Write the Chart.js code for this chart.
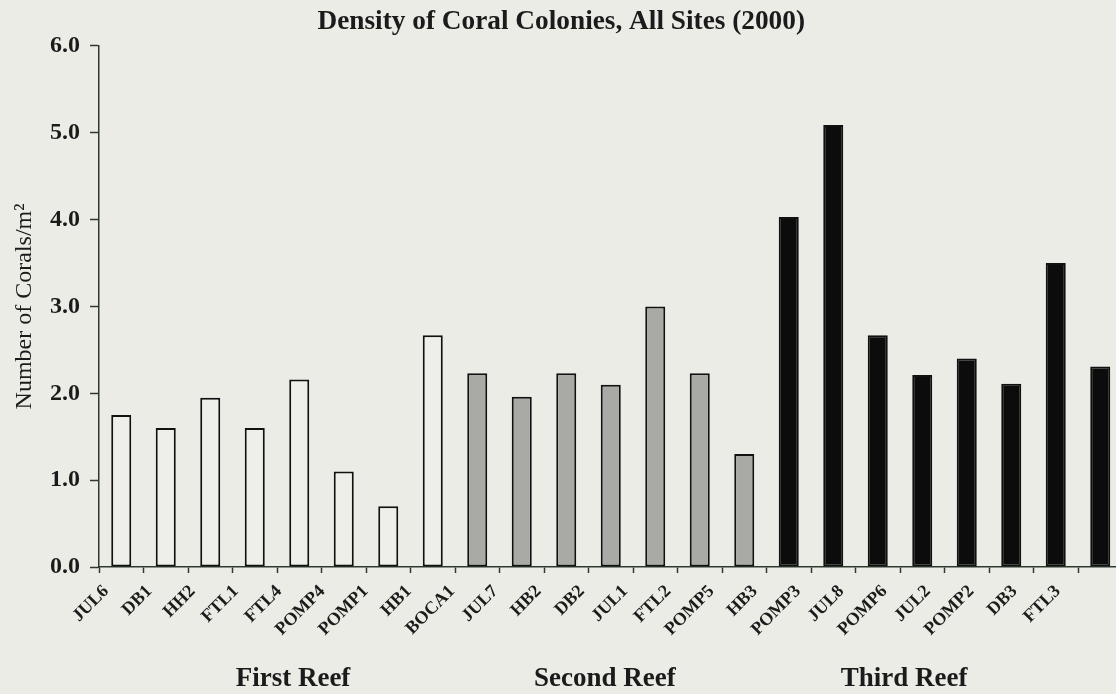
<!DOCTYPE html>
<html>
<head>
<meta charset="utf-8">
<title>Density of Coral Colonies, All Sites (2000)</title>
<script src="https://cdn.jsdelivr.net/npm/chart.js@4.4.1/dist/chart.umd.min.js"></script>
<style>
  html, body { margin: 0; padding: 0; background: #ecece7; overflow: hidden; }
  #wrap { width: 1124px; height: 694px; }
</style>
</head>
<body>
<div id="wrap"><canvas id="chart" width="1124" height="694"></canvas></div>
<script>
// Survey sites and colony densities (corals per m²), one pair of arrays per reef tract
const firstReefSites = ['JUL6', 'DB1', 'HH2', 'FTL1', 'FTL4', 'POMP4', 'POMP1', 'HB1'];
const firstReefDensity = [1.75, 1.6, 1.95, 1.6, 2.16, 1.1, 0.7, 2.67];

const secondReefSites = ['BOCA1', 'JUL7', 'HB2', 'DB2', 'JUL1', 'FTL2', 'POMP5'];
const secondReefDensity = [2.23, 1.96, 2.23, 2.1, 3.0, 2.23, 1.3];

const thirdReefSites = ['HB3', 'POMP3', 'JUL8', 'POMP6', 'JUL2', 'POMP2', 'DB3', 'FTL3'];
const thirdReefDensity = [4.03, 5.09, 2.67, 2.21, 2.4, 2.11, 3.5, 2.31];

const reefNames = ['First Reef', 'Second Reef', 'Third Reef'];
const yTickValues = [0, 1, 2, 3, 4, 5, 6];

// Styling per reef
const reefFill = ['#efefea', '#a9a9a6', '#0c0c0c'];
const ink = '#1b1b1b';
const axisInk = '#2e392e';
const serif = "'Liberation Serif', 'Times New Roman', serif";

// Where each reef caption sits along the site axis (in site-index units)
const reefCaptionAt = [3.86, 10.87, 17.59];
// Site names sit a little left of their bars, creeping further left along the axis
const siteNameLead = 0.34;
const siteNameCreep = 0.028;

const reefSites = [firstReefSites, secondReefSites, thirdReefSites];
const reefDensity = [firstReefDensity, secondReefDensity, thirdReefDensity];

const labels = [];
const values = [];
const fills = [];
reefSites.forEach((sites, r) => {
  sites.forEach((s, i) => {
    labels.push(s);
    values.push(reefDensity[r][i]);
    fills.push(reefFill[r]);
  });
});

function fixedBottomAxis(height) {
  return (scale) => {
    scale.height = height;
    scale.paddingLeft = 0;
    scale.paddingRight = 0;
  };
}

new Chart(document.getElementById('chart'), {
  type: 'bar',
  data: {
    labels: labels,
    datasets: [{
      data: values,
      xAxisID: 'x',
      yAxisID: 'y',
      backgroundColor: fills,
      borderColor: '#111111',
      borderWidth: 2,
      borderSkipped: false,
      barPercentage: 0.45,
      categoryPercentage: 1.0
    }]
  },
  options: {
    responsive: false,
    animation: false,
    devicePixelRatio: 1,
    layout: { padding: { left: 0, right: 1.5, top: 0, bottom: 0 } },
    plugins: {
      legend: { display: false },
      tooltip: { enabled: false },
      title: {
        display: true,
        text: 'Density of Coral Colonies, All Sites (2000)',
        color: ink,
        font: { family: serif, size: 27.3, weight: 'bold', lineHeight: 1.2 },
        padding: { top: 6, bottom: 7.2 }
      }
    },
    scales: {
      // baseline with tick marks between sites
      x: {
        type: 'category',
        position: 'bottom',
        weight: 0,
        offset: true,
        grid: {
          offset: true,
          drawOnChartArea: false,
          drawTicks: true,
          tickLength: 6,
          tickColor: axisInk,
          tickWidth: 1.5
        },
        border: { display: true, color: axisInk, width: 1.5 },
        ticks: { display: false },
        afterFit: fixedBottomAxis(6)
      },
      // slanted site names
      site: {
        type: 'linear',
        position: 'bottom',
        weight: 1,
        offset: false,
        min: -0.5,
        max: 22.5,
        grid: { display: false, drawTicks: false, offset: false },
        border: { display: false },
        afterBuildTicks: (scale) => {
          scale.ticks = labels.map((_, i) => ({ value: i - siteNameLead - siteNameCreep * i }));
        },
        ticks: {
          autoSkip: false,
          minRotation: 45,
          maxRotation: 45,
          padding: 8,
          color: ink,
          font: { family: serif, size: 18, weight: 'bold' },
          callback: (value, index) => labels[index]
        },
        afterFit: fixedBottomAxis(69)
      },
      // reef tract captions
      reef: {
        type: 'linear',
        position: 'bottom',
        weight: 2,
        offset: false,
        min: -0.5,
        max: 22.5,
        grid: { display: false, drawTicks: false, offset: false },
        border: { display: false },
        afterBuildTicks: (scale) => {
          scale.ticks = reefCaptionAt.map(v => ({ value: v }));
        },
        ticks: {
          autoSkip: false,
          maxRotation: 0,
          minRotation: 0,
          padding: 21,
          color: ink,
          font: { family: serif, size: 27, weight: 'bold' },
          callback: (value, index) => reefNames[index]
        },
        afterFit: fixedBottomAxis(52)
      },
      y: {
        type: 'linear',
        position: 'left',
        min: 0,
        max: 6,
        afterBuildTicks: (scale) => {
          scale.ticks = yTickValues.map(v => ({ value: v }));
        },
        grid: {
          drawOnChartArea: false,
          drawTicks: true,
          tickLength: 9,
          tickColor: axisInk,
          tickWidth: 1.5
        },
        border: { display: true, color: axisInk, width: 1.5 },
        ticks: {
          padding: 10,
          color: ink,
          font: { family: serif, size: 24, weight: 'bold' },
          callback: (v) => Number(v).toFixed(1)
        },
        title: {
          display: true,
          text: 'Number of Corals/m²',
          color: ink,
          padding: { top: 10, bottom: 0 },
          font: { family: serif, size: 24, weight: 'normal' }
        },
        afterFit: (scale) => {
          scale.width = 99;
          scale.paddingTop = 0;
          scale.paddingBottom = 0;
        }
      }
    }
  }
});
</script>
</body>
</html>
